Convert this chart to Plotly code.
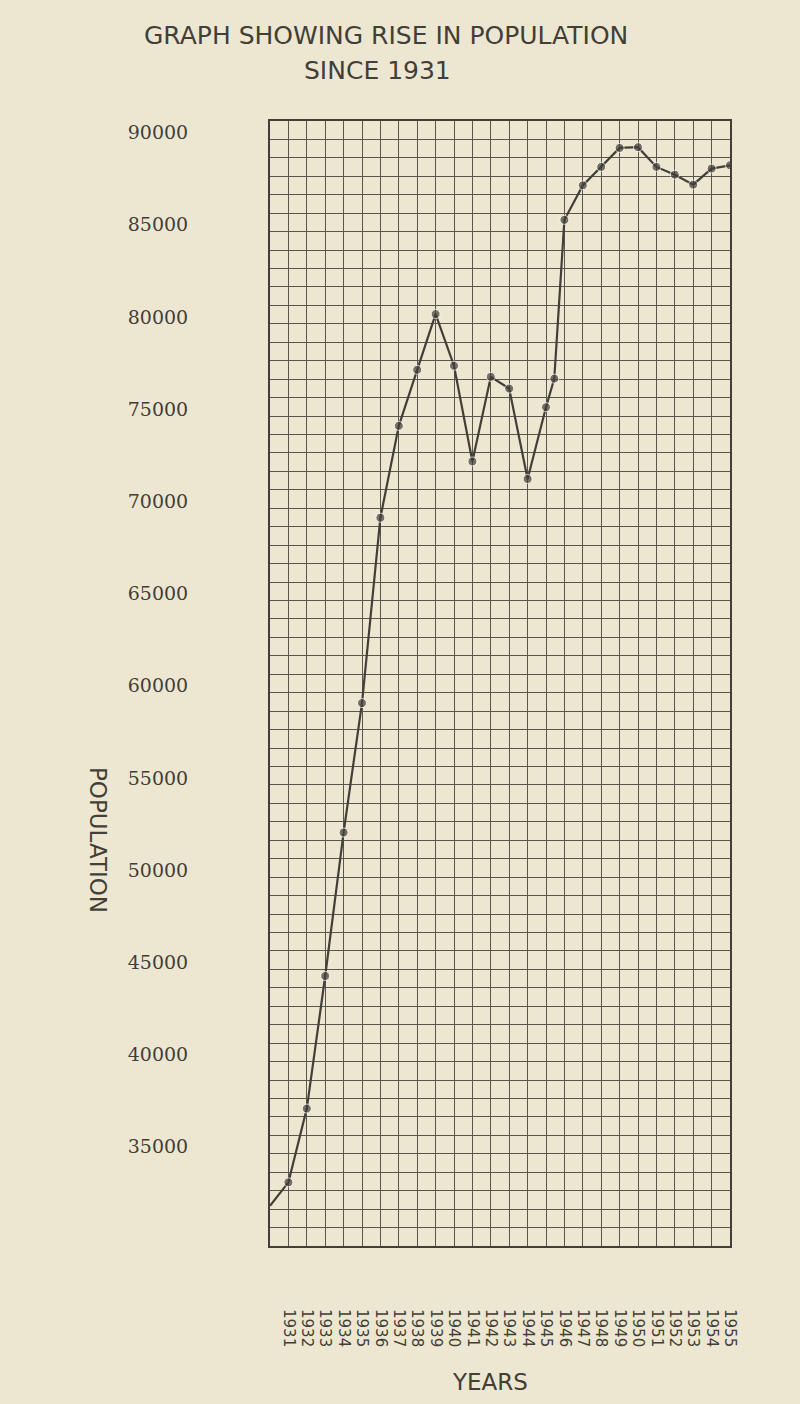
import plotly.graph_objects as go

# ---- data ----
years = [1930, 1931, 1932, 1933, 1934, 1935, 1936, 1937, 1938, 1939, 1940,
         1941, 1942, 1943, 1944, 1945, 1945.45, 1946, 1947, 1948, 1949, 1950,
         1951, 1952, 1953, 1954, 1955]
population = [32180, 33450, 37450, 44640, 52420, 59440, 69490, 74470, 77510,
              80530, 77730, 72540, 77130, 76490, 71590, 75480, 77030, 85640,
              87510, 88510, 89540, 89580, 88510, 88090, 87550, 88420, 88600]
marker_sizes = [0] + [9] * (len(years) - 1)

year_ticks = list(range(1931, 1956))
year_labels = [str(y) for y in year_ticks]
pop_ticks = list(range(35000, 90001, 5000))
pop_labels = [str(v) for v in pop_ticks]

INK = "#423e38"
GRID = "#5a554d"
BG = "#ede7d1"

fig = go.Figure()
fig.add_trace(go.Scatter(
    x=years, y=population, mode="lines+markers",
    line=dict(color=INK, width=2.2),
    marker=dict(color=INK, size=marker_sizes),
    showlegend=False, hoverinfo="x+y",
))

fig.update_layout(
    width=800, height=1404,
    margin=dict(l=270, r=70, t=121, b=158),
    paper_bgcolor=BG, plot_bgcolor=BG,
    xaxis=dict(
        range=[1930, 1955], tickmode="array", tickvals=year_ticks, ticktext=year_labels,
        tickangle=90, ticks="", showgrid=True, gridcolor=GRID, gridwidth=1.2,
        showline=True, linecolor=INK, linewidth=2, mirror=True, zeroline=False,
        tickfont=dict(family="DejaVu Sans", size=15, color=INK),
        ticklabelstandoff=58,
    ),
    yaxis=dict(
        range=[30000, 91000], tickmode="array", tickvals=pop_ticks, ticktext=pop_labels,
        ticks="", showgrid=True, gridcolor=GRID, gridwidth=1.2,
        minor=dict(dtick=1000, showgrid=True, gridcolor=GRID, gridwidth=1.2, ticks=""),
        showline=True, linecolor=INK, linewidth=2, mirror=True, zeroline=False,
        tickfont=dict(family="DejaVu Serif", size=19, color=INK),
        ticklabelstandoff=76, ticklabelshift=-7,
    ),
    annotations=[
        dict(text="GRAPH SHOWING RISE IN POPULATION", xref="paper", yref="paper",
             x=0.252, y=1.0764, showarrow=False, xanchor="center", yanchor="middle",
             font=dict(family="DejaVu Sans", size=25, color=INK)),
        dict(text="SINCE 1931", xref="paper", yref="paper",
             x=0.233, y=1.0453, showarrow=False, xanchor="center", yanchor="middle",
             font=dict(family="DejaVu Sans", size=25, color=INK)),
        dict(text="POPULATION", xref="paper", yref="paper",
             x=-0.374, y=0.361, showarrow=False, textangle=90,
             xanchor="center", yanchor="middle",
             font=dict(family="DejaVu Sans", size=23, color=INK)),
        dict(text="YEARS", xref="paper", yref="paper",
             x=0.478, y=-0.1209, showarrow=False, xanchor="center", yanchor="middle",
             font=dict(family="DejaVu Sans", size=23, color=INK)),
    ],
)

fig.write_html("out.html", config={"displayModeBar": False},
               post_script="document.body.style.margin='0';"
               "document.body.style.background='" + BG + "';")
